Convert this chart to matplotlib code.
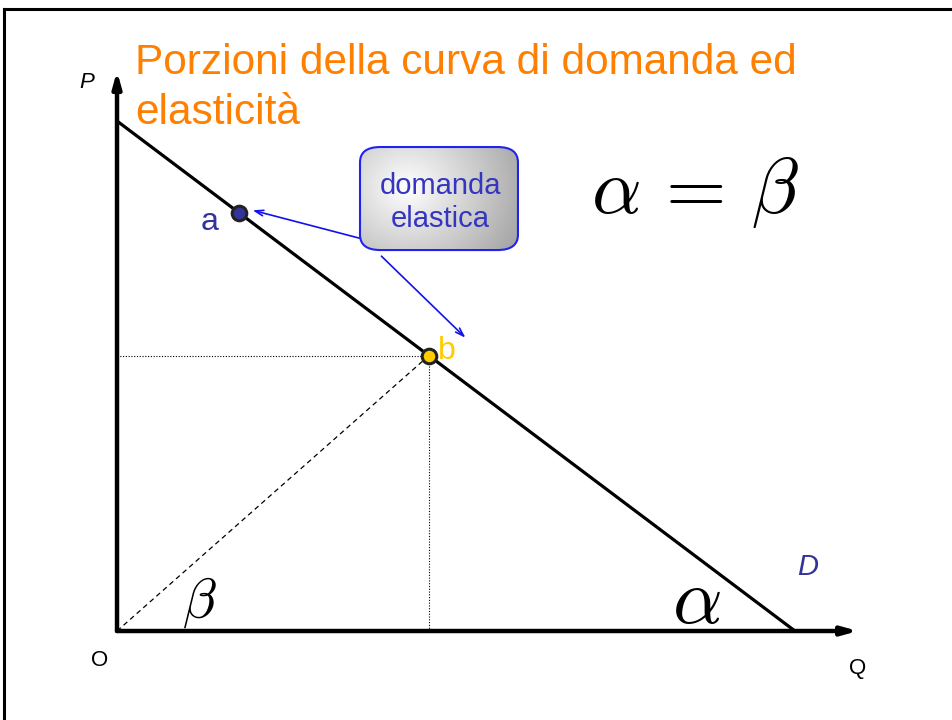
import matplotlib
matplotlib.use("Agg")
import matplotlib.pyplot as plt
import numpy as np
from matplotlib.patches import FancyBboxPatch
from matplotlib.lines import Line2D

# Demand curve intercepts (price axis, quantity axis)
p_intercept = 10.0
q_intercept = 10.0
# Points on the demand curve
point_names = ["a", "b"]
point_q = [1.8, 4.6]
point_p = [8.2, 5.4]
point_colors = ["#333399", "#FFCC00"]

title_lines = ["Porzioni della curva di domanda ed", "elasticità"]
box_text = "domanda\nelastica"

plt.rcParams["font.family"] = ["Liberation Sans", "DejaVu Sans"]
plt.rcParams["mathtext.fontset"] = "cm"

fig = plt.figure(figsize=(9.52, 7.2), dpi=100)
ax = fig.add_axes([0, 0, 1, 1])
ax.set_xlim(-1.726, 12.316)
ax.set_ylim(-1.745, 12.373)
ax.axis("off")

# Slide frame
fig.add_artist(Line2D([0.004, 0.004], [0, 0.988], transform=fig.transFigure, color="black", lw=2.2))
fig.add_artist(Line2D([0.004, 1.0], [0.988, 0.988], transform=fig.transFigure, color="black", lw=2.2))

# Title
ax.text(0.27, 10.92, title_lines[0], fontsize=30.5, color="#FF8000", va="baseline", ha="left")
ax.text(0.27, 9.94, title_lines[1], fontsize=30.5, color="#FF8000", va="baseline", ha="left")

# Axes with arrowheads
ax.annotate("", xy=(10.93, 0), xytext=(0, 0),
            arrowprops=dict(arrowstyle="-|>,head_length=0.9,head_width=0.25", lw=3.2, color="black",
                            shrinkA=0, shrinkB=0))
ax.annotate("", xy=(0, 10.98), xytext=(0, 0),
            arrowprops=dict(arrowstyle="-|>,head_length=0.9,head_width=0.25", lw=3.2, color="black",
                            shrinkA=0, shrinkB=0))

# Demand curve
ax.plot([0, q_intercept], [p_intercept, 0], color="black", lw=2.3, solid_capstyle="butt")

# Guides to point b
qb, pb = point_q[1], point_p[1]
ax.plot([0, qb], [pb, pb], color="black", lw=0.8, ls=(0, (1, 1.5)))
ax.plot([qb, qb], [0, pb], color="black", lw=0.8, ls=(0, (1, 1.5)))
ax.plot([0, qb], [0, pb], color="black", lw=0.9, ls=(0, (4, 3)))

# Points
for q, p, c in zip(point_q, point_p, point_colors):
    ax.plot(q, p, "o", ms=10.5, mfc=c, mec="#222222", mew=2.2, zorder=5)
ax.text(point_q[0] - 0.44, point_p[0] - 0.18, "a", fontsize=23, color="#333399", ha="center", va="center")
ax.text(point_q[1] + 0.27, point_p[1] + 0.1, "b", fontsize=23, color="#FFCC00", ha="center", va="center")

# Callout box with gradient fill
bx0, by0, bw, bh = 3.584, 7.47, 2.33, 2.02
grad = np.linspace(0, 1, 256)
gx, gy = np.meshgrid(grad, grad)
shade = 1.0 - 0.36 * np.clip(np.sqrt(((gx - 0.3) * 1.25) ** 2 + ((gy - 0.6) * 0.9) ** 2), 0, 1)
img = ax.imshow(shade, cmap="gray", vmin=0, vmax=1, extent=[bx0, bx0 + bw, by0, by0 + bh],
                origin="lower", aspect="auto", zorder=3)
box = FancyBboxPatch((bx0, by0), bw, bh, boxstyle="round,pad=0,rounding_size=0.3",
                     fc="none", ec="#2222EE", lw=1.5, zorder=4)
ax.add_patch(box)
img.set_clip_path(box)
ax.text(bx0 + bw / 2 + 0.02, by0 + bh / 2 - 0.08, box_text, fontsize=21, color="#3535C0",
        ha="center", va="center", zorder=5, linespacing=1.2)

# Callout arrows
ax.annotate("", xy=(point_q[0] + 0.2, point_p[0] + 0.05), xytext=(bx0, 7.7),
            arrowprops=dict(arrowstyle="->,head_length=0.6,head_width=0.2", color="#1111EE", lw=1.2,
                            shrinkA=0, shrinkB=0))
ax.annotate("", xy=(5.14, 5.75), xytext=(3.9, 7.35),
            arrowprops=dict(arrowstyle="->,head_length=0.6,head_width=0.2", color="#1111EE", lw=1.2,
                            shrinkA=0, shrinkB=0))

# Angle labels and condition
ax.text(8.55, 0.55, r"$\alpha$", fontsize=56, ha="center", va="center")
ax.text(1.21, 0.55, r"$\beta$", fontsize=40, ha="center", va="center")
ax.text(8.52, 8.6, r"$\alpha\,=\,\beta$", fontsize=56, ha="center", va="center")

# Axis labels
ax.text(10.18, 1.25, "D", fontsize=21, style="italic", color="#333399", ha="center", va="center")
ax.text(10.92, -0.74, "Q", fontsize=16, ha="center", va="center")
ax.text(-0.25, -0.58, "O", fontsize=16, ha="center", va="center")
ax.text(-0.45, 10.76, "P", fontsize=16, style="italic", ha="center", va="center")

fig.savefig("out.png", dpi=100)
